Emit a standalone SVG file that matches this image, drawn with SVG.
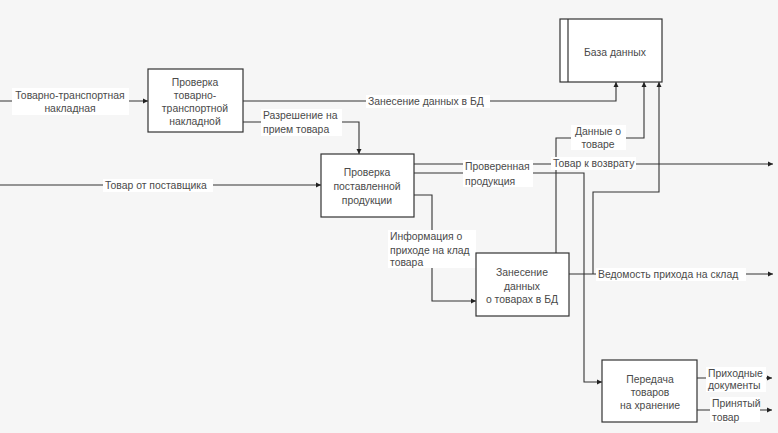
<svg xmlns="http://www.w3.org/2000/svg" width="778" height="433" viewBox="0 0 778 433">
<defs>
<marker id="ah" markerWidth="6" markerHeight="6" refX="5" refY="3" orient="auto" markerUnits="userSpaceOnUse">
<path d="M0,0.5 L5,3 L0,5.5 Z" fill="#222"/>
</marker>
<style>
.bg{fill:#f6f6f6}
.box{fill:#ffffff;stroke:#333;stroke-width:1.2}
.ln{fill:none;stroke:#333;stroke-width:1.1}
.lb{fill:#ffffff}
text{font-family:"Liberation Sans",Arial,sans-serif;font-size:10.4px;fill:#4a4a4a}
.c{text-anchor:middle}
</style>
</defs>
<rect class="bg" x="0" y="0" width="778" height="433"/>

<g id="connectors">
<path class="ln" d="M0,101 H148" marker-end="url(#ah)"/>
<path class="ln" d="M243,101 H616 V82" marker-end="url(#ah)"/>
<path class="ln" d="M243,122 H359 V154" marker-end="url(#ah)"/>
<path class="ln" d="M0,185 H321" marker-end="url(#ah)"/>
<path class="ln" d="M414,164 H773" marker-end="url(#ah)"/>
<path class="ln" d="M414,173 H584 V382 H602" marker-end="url(#ah)"/>
<path class="ln" d="M414,195 H432 V301 H476" marker-end="url(#ah)"/>
<path class="ln" d="M556,253 V138 H644 V82" marker-end="url(#ah)"/>
<path class="ln" d="M569,274 H773" marker-end="url(#ah)"/>
<path class="ln" d="M593,274 V192 H659 V82" marker-end="url(#ah)"/>
<path class="ln" d="M697,378 H772" marker-end="url(#ah)"/>
<path class="ln" d="M697,410 H772" marker-end="url(#ah)"/>

<g id="labels">
<rect class="lb" x="12" y="88" width="117" height="27"/>
<text class="c" x="70" y="99">Товарно-транспортная</text>
<text class="c" x="70" y="112">накладная</text>

<rect class="lb" x="366" y="95" width="124" height="13"/>
<text x="368" y="105">Занесение данных в БД</text>

<rect class="lb" x="261" y="109" width="81" height="27"/>
<text x="263" y="119">Разрешение на</text>
<text x="263" y="133">прием товара</text>

<rect class="lb" x="103" y="179" width="110" height="13"/>
<text x="105" y="189">Товар от поставщика</text>

<rect class="lb" x="463" y="160" width="70" height="27"/>
<text x="465" y="170">Проверенная</text>
<text x="465" y="185">продукция</text>

<rect class="lb" x="571" y="125" width="55" height="25"/>
<text class="c" x="598" y="135">Данные о</text>
<text class="c" x="598" y="148">товаре</text>

<rect class="lb" x="551" y="157" width="85" height="13"/>
<text x="553" y="167">Товар к возврату</text>

<rect class="lb" x="388" y="230" width="88" height="38"/>
<text x="390" y="240">Информация о</text>
<text x="390" y="254">приходе на клад</text>
<text x="390" y="266">товара</text>

<rect class="lb" x="596" y="268" width="150" height="13"/>
<text x="598" y="278">Ведомость прихода на склад</text>

<rect class="lb" x="706" y="367" width="60" height="25"/>
<text x="708" y="377">Приходные</text>
<text x="708" y="389">документы</text>

<rect class="lb" x="710" y="397" width="50" height="25"/>
<text x="712" y="407">Принятый</text>
<text x="712" y="421">товар</text>
</g>
</g>

<g id="node-ttn">
<rect class="box" x="148" y="69" width="95" height="63"/>
<text class="c" x="195" y="86">Проверка</text>
<text class="c" x="195" y="99">товарно-</text>
<text class="c" x="195" y="112">транспортной</text>
<text class="c" x="195" y="125">накладной</text>
</g>

<g id="node-db">
<rect class="box" x="560" y="19" width="102" height="63"/>
<line x1="568" y1="19" x2="568" y2="82" stroke="#333" stroke-width="1.2"/>
<text class="c" x="615" y="56">База данных</text>
</g>

<g id="node-check">
<rect class="box" x="321" y="154" width="93" height="63"/>
<text class="c" x="367" y="176">Проверка</text>
<text class="c" x="367" y="190">поставленной</text>
<text class="c" x="367" y="204">продукции</text>
</g>

<g id="node-enter">
<rect class="box" x="476" y="253" width="93" height="63"/>
<text class="c" x="522" y="276">Занесение</text>
<text class="c" x="522" y="290">данных</text>
<text class="c" x="522" y="303">о товарах в БД</text>
</g>

<g id="node-store">
<rect class="box" x="602" y="360" width="95" height="62"/>
<text class="c" x="650" y="383">Передача</text>
<text class="c" x="650" y="396">товаров</text>
<text class="c" x="650" y="409">на хранение</text>
</g>
</svg>
